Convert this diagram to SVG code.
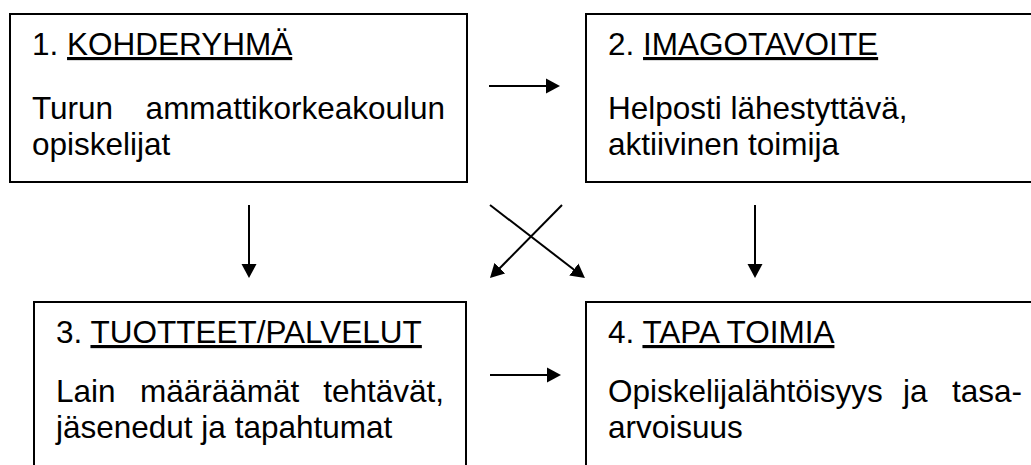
<svg xmlns="http://www.w3.org/2000/svg" width="1031" height="465" viewBox="0 0 1031 465">
<style>
.box{fill:#fff;stroke:#000;stroke-width:2}
.t{font-family:"Liberation Sans",Arial,sans-serif;font-size:31.5px;fill:#000}
.u{text-decoration:underline}
.c{stroke:#000;stroke-width:2;fill:none}
</style>
<defs>
<marker id="ah" markerUnits="userSpaceOnUse" markerWidth="16" markerHeight="16" refX="4" refY="8" orient="auto" viewBox="0 0 16 16">
<path d="M0,0.5 L14,8 L0,15.5 Z" fill="#000"/>
</marker>
</defs>
<rect width="1031" height="465" fill="#fff"/>
<g id="node1">
<rect class="box" x="10" y="14" width="457" height="168"/>
<text class="t" x="32" y="55">1. <tspan class="u">KOHDERYHMÄ</tspan></text>
<text class="t" x="32" y="119">Turun</text>
<text class="t" x="445" y="119" text-anchor="end">ammattikorkeakoulun</text>
<text class="t" x="32" y="155">opiskelijat</text>
</g>
<g id="node2">
<rect class="box" x="586" y="14" width="460" height="168"/>
<text class="t" x="608" y="55">2. <tspan class="u">IMAGOTAVOITE</tspan></text>
<text class="t" x="608" y="119">Helposti lähestyttävä,</text>
<text class="t" x="608" y="155">aktiivinen toimija</text>
</g>
<g id="node3">
<rect class="box" x="34" y="302" width="432" height="200"/>
<text class="t" x="56" y="343">3. <tspan class="u">TUOTTEET/PALVELUT</tspan></text>
<text class="t" x="56" y="402">Lain</text>
<text class="t" x="140" y="402">määräämät</text>
<text class="t" x="444" y="402" text-anchor="end">tehtävät,</text>
<text class="t" x="56" y="438">jäsenedut ja tapahtumat</text>
</g>
<g id="node4">
<rect class="box" x="586" y="302" width="460" height="200"/>
<text class="t" x="608" y="343">4. <tspan class="u">TAPA TOIMIA</tspan></text>
<text class="t" x="608" y="402">Opiskelijalähtöisyys</text>
<text class="t" x="903" y="402">ja</text>
<text class="t" x="1022" y="402" text-anchor="end">tasa-</text>
<text class="t" x="608" y="438">arvoisuus</text>
</g>
<g id="connectors">
<line class="c" x1="489" y1="86" x2="550" y2="86" marker-end="url(#ah)"/>
<line class="c" x1="490" y1="375" x2="551" y2="375" marker-end="url(#ah)"/>
<line class="c" x1="249" y1="205" x2="249" y2="268" marker-end="url(#ah)"/>
<line class="c" x1="755" y1="205" x2="755" y2="268" marker-end="url(#ah)"/>
<line class="c" x1="490" y1="205" x2="577" y2="272" marker-end="url(#ah)"/>
<line class="c" x1="562" y1="205" x2="497" y2="271" marker-end="url(#ah)"/>
</g>
</svg>
